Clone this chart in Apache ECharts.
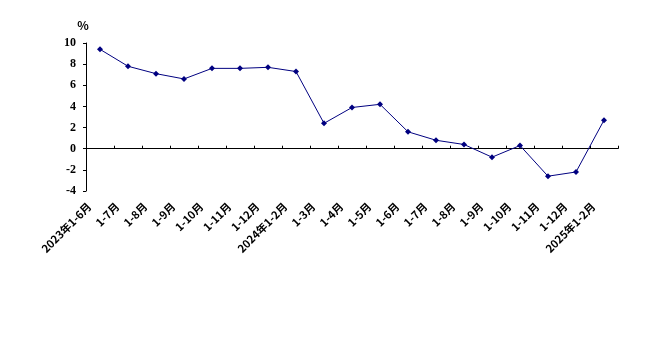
<!DOCTYPE html>
<html><head><meta charset="utf-8">
<script src="https://cdn.jsdelivr.net/npm/echarts@6/dist/echarts.min.js"></script>
<style>html,body{margin:0;padding:0;background:#fff}#c{width:651px;height:343px}</style>
</head><body><div id="c"></div>
<script>
const categories = ['2023年1-6月','1-7月','1-8月','1-9月','1-10月','1-11月','1-12月','2024年1-2月','1-3月','1-4月','1-5月','1-6月','1-7月','1-8月','1-9月','1-10月','1-11月','1-12月','2025年1-2月'];
const values = [9.4,7.8,7.1,6.6,7.6,7.6,7.7,7.3,2.4,3.9,4.2,1.6,0.8,0.4,-0.8,0.3,-2.6,-2.2,2.7];
const yTicks = {min:-4, max:10, interval:2};
const font = '"Noto Sans CJK SC", "Liberation Serif", serif';
const chart = echarts.init(document.getElementById('c'));
chart.setOption({
  animation:false,
  grid:{left:86, right:33, top:43, bottom:152, containLabel:false},
  xAxis:{type:'category', data:categories, boundaryGap:true,
    axisLine:{onZero:true, lineStyle:{color:'#000', width:1}},
    axisTick:{show:true, inside:true, length:3, alignWithLabel:false, lineStyle:{color:'#000'}},
    axisLabel:{interval:0, rotate:45, margin:3, padding:[0,15,0,0], color:'#000', fontFamily:font, fontWeight:'bold', fontSize:11}
  },
  yAxis:{type:'value', min:yTicks.min, max:yTicks.max, interval:yTicks.interval,
    name:'%', nameLocation:'end', nameGap:12,
    nameTextStyle:{color:'#000', fontFamily:font, fontWeight:'bold', fontSize:12, align:'center', padding:[0,6,0,0]},
    splitLine:{show:false},
    axisLine:{show:true, lineStyle:{color:'#000'}},
    axisTick:{show:true, length:3, lineStyle:{color:'#000'}},
    axisLabel:{margin:10, color:'#000', fontFamily:'"Liberation Serif", serif', fontWeight:'bold', fontSize:12}
  },
  series:[{type:'line', data:values, symbol:'diamond', symbolSize:6,
    lineStyle:{color:'#000080', width:1}, itemStyle:{color:'#000080'}}]
});
</script></body></html>
